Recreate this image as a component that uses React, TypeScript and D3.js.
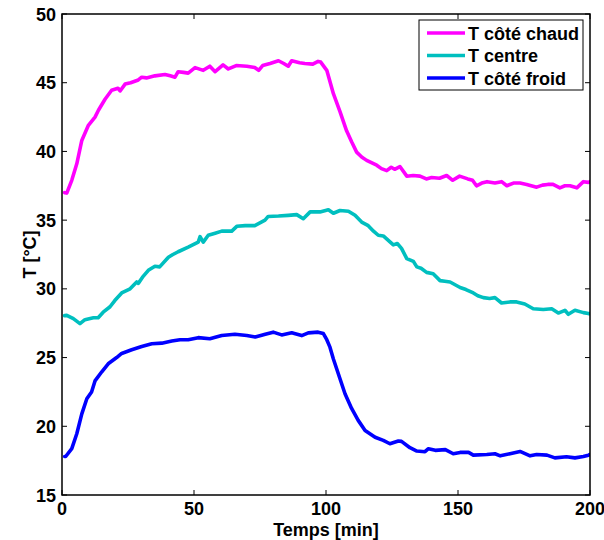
import React from "react";
import * as d3 from "d3";

const xTicks = [0, 50, 100, 150, 200];
const yTicks = [15, 20, 25, 30, 35, 40, 45, 50];
const seriesNames = ["T côté chaud", "T centre", "T côté froid"];
const seriesColors = ["#ff00ff", "#00bfbf", "#0000ff"];

const hotSeries: [number, number][] = [
  [1, 37.0], [1.8, 36.97], [3.7, 37.9], [5.6, 39.1], [7.5, 40.8], [10, 41.9], [12.5, 42.5], [13.8, 43.0],
  [16.3, 43.8], [18.8, 44.45], [21.2, 44.6], [22, 44.4], [23.9, 44.9], [26, 45.0], [28.9, 45.2], [30.2, 45.4],
  [32, 45.35], [35.2, 45.5], [39, 45.6], [41, 45.5], [42.8, 45.4], [44, 45.8], [46, 45.75], [47.8, 45.7],
  [50.4, 46.1], [53.5, 45.9], [56, 46.2], [58, 45.8], [61, 46.3], [63, 46.0], [66, 46.25], [70, 46.2],
  [73, 46.1], [74.5, 45.9], [76, 46.25], [78.8, 46.4], [82, 46.6], [84, 46.4], [85.7, 46.2], [87, 46.6],
  [90, 46.45], [92, 46.4], [95, 46.35], [97, 46.55], [98, 46.5], [100.3, 45.9], [102.8, 44.2], [105.3, 42.9],
  [107.8, 41.5], [109.7, 40.7], [111.6, 39.95], [113.5, 39.6], [115.4, 39.35], [117, 39.2], [119.2, 39.0],
  [121, 38.75], [123, 38.6], [124.7, 38.85], [126, 38.7], [128, 38.9], [130.6, 38.2], [133, 38.25],
  [135.6, 38.2], [138, 38.0], [140, 38.1], [143, 38.05], [145.7, 38.25], [148, 37.9], [150.6, 38.2],
  [153.7, 38.0], [155.5, 37.9], [157, 37.5], [159, 37.7], [161, 37.8], [164, 37.7], [166.5, 37.8],
  [168.5, 37.5], [171, 37.7], [173.5, 37.7], [176, 37.6], [179.8, 37.4], [182, 37.55], [184, 37.6],
  [186, 37.6], [188.6, 37.35], [190.5, 37.5], [192.4, 37.5], [195, 37.35], [197.5, 37.8], [199.4, 37.75], [200, 37.8],
];

const centreSeries: [number, number][] = [
  [1, 28.05], [1.8, 28.07], [4.3, 27.83], [6.8, 27.47], [8.7, 27.76], [11.9, 27.9], [13.7, 27.9], [15.6, 28.3],
  [18.2, 28.7], [20, 29.15], [22.6, 29.7], [25.8, 30.0], [28.3, 30.5], [28.9, 30.4], [30.5, 30.85], [32.7, 31.35],
  [35.2, 31.65], [37, 31.6], [40.3, 32.3], [42, 32.5], [44, 32.7], [47.8, 33.04], [51.6, 33.4], [52.3, 33.8],
  [53.5, 33.4], [55.4, 33.9], [58, 34.05], [60.5, 34.2], [64.3, 34.2], [66.2, 34.55], [69.4, 34.6], [73, 34.6],
  [76.9, 35.0], [78.1, 35.27], [82, 35.3], [85.7, 35.35], [88.9, 35.4], [91.4, 35.1], [94, 35.6], [97.7, 35.6],
  [100.9, 35.76], [102.8, 35.5], [105.3, 35.7], [108.5, 35.65], [111, 35.35], [113.5, 34.86], [116, 34.6],
  [118, 34.2], [119.8, 33.9], [121.7, 33.85], [125.5, 33.2], [127, 33.3], [128.6, 32.95], [130.6, 32.2],
  [133.1, 32.0], [134.4, 31.6], [136, 31.5], [138.1, 31.2], [140.6, 31.1], [143.2, 30.6], [145, 30.55],
  [147, 30.5], [150.8, 30.1], [153, 29.95], [155.8, 29.7], [157.5, 29.5], [159.6, 29.36], [162, 29.3],
  [164, 29.36], [166.5, 28.97], [169.7, 29.05], [172.2, 29.05], [175.3, 28.9], [178.5, 28.55], [182.3, 28.5],
  [185.5, 28.55], [188, 28.24], [190.5, 28.44], [191.8, 28.15], [194.3, 28.44], [197.5, 28.27], [199.4, 28.2], [200, 28.2],
];

const coldSeries: [number, number][] = [
  [1, 17.8], [1.4, 17.8], [3.7, 18.37], [5.6, 19.46], [7.5, 20.9], [9.4, 22.0], [11.2, 22.5], [12.5, 23.3],
  [15, 23.95], [17.5, 24.55], [20.7, 25.0], [22.6, 25.3], [26.4, 25.57], [30.2, 25.8], [34, 26.0], [37.8, 26.05],
  [41.6, 26.2], [44.7, 26.3], [47.8, 26.3], [51.6, 26.45], [56, 26.37], [60.5, 26.6], [65.5, 26.7], [70, 26.6],
  [73.2, 26.5], [77, 26.7], [80, 26.85], [83.2, 26.65], [87, 26.8], [90.8, 26.6], [93.3, 26.8], [97, 26.85],
  [99, 26.75], [100.3, 26.3], [101.5, 25.76], [102.8, 24.9], [105.3, 23.46], [107.2, 22.37], [109.7, 21.3],
  [112.2, 20.43], [114.8, 19.7], [118.6, 19.2], [121.7, 18.97], [124.2, 18.73], [127.4, 18.93], [128.6, 18.9],
  [131.8, 18.44], [134.4, 18.2], [137.5, 18.15], [138.8, 18.37], [141.4, 18.25], [145.2, 18.3], [148.2, 18.0],
  [150.8, 18.1], [154, 18.1], [155.8, 17.9], [160.9, 17.95], [164, 18.0], [166, 17.85], [169.7, 18.0],
  [173.5, 18.17], [177.3, 17.85], [179.8, 17.95], [183.7, 17.9], [186.7, 17.7], [191.1, 17.78], [194.3, 17.7],
  [197.5, 17.8], [199.4, 17.9], [200, 17.95],
];

const allSeries = [hotSeries, centreSeries, coldSeries];

export default function App() {
  const W = 604, H = 540;
  const left = 62, right = 590, top = 14, bottom = 495;
  const x = d3.scaleLinear().domain([0, 200]).range([left, right]);
  const y = d3.scaleLinear().domain([15, 50]).range([bottom, top]);
  const line = d3.line<[number, number]>().x(d => x(d[0])).y(d => y(d[1]));
  const font = "'Liberation Sans', Arial, Helvetica, sans-serif";
  const tl = 5;

  const legX = 419, legY = 20, legW = 164, legH = 70;

  return (
    <svg width={W} height={H} style={{ position: "absolute", left: 0, top: 0, background: "#fff" }}
      fontFamily={font} fontWeight="bold">
      <rect x={0} y={0} width={W} height={H} fill="#fff" />
      <defs>
        <clipPath id="plotclip">
          <rect x={left} y={top} width={right - left} height={bottom - top} />
        </clipPath>
      </defs>
      {allSeries.map((s, i) => (
        <path key={i} d={line(s) || ""} fill="none" stroke={seriesColors[i]} strokeWidth={3.6}
          strokeLinejoin="round" strokeLinecap="round" clipPath="url(#plotclip)" />
      ))}
      <rect x={left} y={top} width={right - left} height={bottom - top} fill="none" stroke="#000" strokeWidth={1.5} />
      {xTicks.map(t => (
        <g key={"x" + t}>
          <line x1={x(t)} x2={x(t)} y1={bottom} y2={bottom - tl} stroke="#000" strokeWidth={1} />
          <line x1={x(t)} x2={x(t)} y1={top} y2={top + tl} stroke="#000" strokeWidth={1} />
          <text x={x(t)} y={515} textAnchor="middle" fontSize={18}>{t}</text>
        </g>
      ))}
      {yTicks.map(t => (
        <g key={"y" + t}>
          <line x1={left} x2={left + tl} y1={y(t)} y2={y(t)} stroke="#000" strokeWidth={1} />
          <line x1={right} x2={right - tl} y1={y(t)} y2={y(t)} stroke="#000" strokeWidth={1} />
          <text x={56} y={y(t) + 6.5} textAnchor="end" fontSize={18}>{t}</text>
        </g>
      ))}
      <text x={(left + right) / 2} y={536} textAnchor="middle" fontSize={18}>Temps [min]</text>
      <text transform={`translate(36, ${(top + bottom) / 2}) rotate(-90)`} textAnchor="middle" fontSize={18}>T [°C]</text>
      <rect x={legX} y={legY} width={legW} height={legH} fill="#fff" stroke="#000" strokeWidth={1} />
      {seriesNames.map((n, i) => {
        const cy = 33 + i * 22.5;
        return (
          <g key={n}>
            <line x1={427} x2={465} y1={cy} y2={cy} stroke={seriesColors[i]} strokeWidth={3.6} />
            <text x={468} y={cy + 6.5} fontSize={18}>{n}</text>
          </g>
        );
      })}
    </svg>
  );
}
